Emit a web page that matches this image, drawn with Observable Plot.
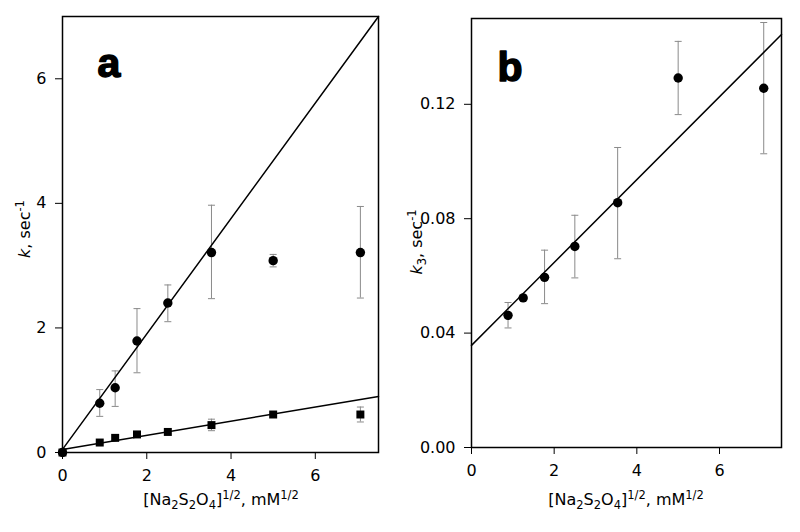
<!DOCTYPE html>
<html><head><meta charset="utf-8">
<script src="https://cdn.jsdelivr.net/npm/d3@7"></script>
<script src="https://cdn.jsdelivr.net/npm/@observablehq/plot@0.6"></script>
<style>
body{margin:0;background:#fff;}
#wrap{display:flex;width:800px;height:532px;}
</style></head><body><div id="wrap"></div>
<script>
// ---- data ----
const xVals = [0, 0.884, 1.25, 1.768, 2.5, 3.536, 5.0, 7.07];
const kCircle   = [0, 0.79, 1.04, 1.79, 2.40, 3.21, 3.08, 3.21];
const kCircleHi = [null, 1.01, 1.31, 2.31, 2.69, 3.97, 3.18, 3.95];
const kCircleLo = [null, 0.58, 0.74, 1.28, 2.10, 2.47, 2.98, 2.48];
const kSquare   = [0, 0.16, 0.235, 0.29, 0.33, 0.44, 0.61, 0.61];
const kSquareHi = [null, null, null, null, null, 0.535, null, 0.73];
const kSquareLo = [null, null, null, null, null, 0.35, null, 0.49];

const xB   = [0.884, 1.25, 1.768, 2.5, 3.536, 5.0, 7.07];
const k3   = [0.0462, 0.0523, 0.0595, 0.0703, 0.0856, 0.1292, 0.1256];
const k3Hi = [0.0507, null, 0.069, 0.0812, 0.1049, 0.142, 0.1486];
const k3Lo = [0.0418, null, 0.0503, 0.0593, 0.066, 0.1164, 0.1027];

const fitX  = [0, 7.5];
const fitA1 = [0.05, 7.0];
const fitA2 = [0.05, 0.90];
const fitB  = [0.0357, 0.1444];

const xTicks  = [0, 2, 4, 6];
const yTicksA = [0, 2, 4, 6];
const yTicksB = [0, 0.04, 0.08, 0.12];

// ---- helpers ----
const rows = (xs, ys, lo, hi) => xs.map((x, i) => ({x, y: ys[i], lo: lo ? lo[i] : null, hi: hi ? hi[i] : null}));
const withBars = d => d.filter(r => r.hi != null);
const capSymbol = {draw(ctx) { ctx.moveTo(-3.5, 0); ctx.lineTo(3.5, 0); }};
const ERR = "#8a8a8a";

function errMarks(data) {
  const b = withBars(data);
  return [
    Plot.ruleX(b, {x: "x", y1: "lo", y2: "hi", stroke: ERR, strokeWidth: 1}),
    Plot.dot(b, {x: "x", y: "hi", symbol: capSymbol, stroke: ERR, fill: "none", strokeWidth: 1}),
    Plot.dot(b, {x: "x", y: "lo", symbol: capSymbol, stroke: ERR, fill: "none", strokeWidth: 1})
  ];
}

function richText(sel, parts) {
  let shift = 0;
  parts.forEach(p => {
    const t = sel.append("tspan").text(p.t);
    let target = 0, size = null;
    if (p.s === "sub") { target = 4; size = 11.5; }
    if (p.s === "sup") { target = -6; size = 11.5; }
    t.attr("dy", target - shift);
    shift = target;
    if (size) t.attr("font-size", size);
    if (p.i) t.attr("font-style", "italic");
  });
}

const xLabelParts = [
  {t: "[Na"}, {t: "2", s: "sub"}, {t: "S"}, {t: "2", s: "sub"}, {t: "O"}, {t: "4", s: "sub"},
  {t: "]"}, {t: "1/2", s: "sup"}, {t: ", mM"}, {t: "1/2", s: "sup"}
];

const wrap = document.getElementById("wrap");
const style = {fontFamily: "DejaVu Sans", fontSize: "16px", color: "black", background: "white", overflow: "visible"};

// ---- panel a ----
const circA = rows(xVals, kCircle, kCircleLo, kCircleHi);
const sqA = rows(xVals, kSquare, kSquareLo, kSquareHi);
const lineA1 = rows(fitX, fitA1);
const lineA2 = rows(fitX, fitA2);

const plotA = Plot.plot({
  width: 400, height: 532,
  marginLeft: 62, marginRight: 22, marginTop: 16, marginBottom: 80,
  style,
  x: {domain: [0, 7.5]},
  y: {domain: [0, 7]},
  marks: [
    Plot.axisX({ticks: xTicks, tickSize: 7, tickPadding: 10, tickFormat: d3.format("d"), label: null}),
    Plot.axisY({ticks: yTicksA, tickSize: 7, tickPadding: 9, tickFormat: d3.format("d"), label: null}),
    ...errMarks(circA),
    ...errMarks(sqA),
    Plot.line(lineA1, {x: "x", y: "y", stroke: "black", strokeWidth: 1.5}),
    Plot.line(lineA2, {x: "x", y: "y", stroke: "black", strokeWidth: 1.5}),
    Plot.dot(circA, {x: "x", y: "y", r: 4.7, fill: "black", symbol: "circle"}),
    Plot.dot(sqA, {x: "x", y: "y", r: 4.5, fill: "black", symbol: "square"}),
    Plot.text(["a"], {frameAnchor: "top-left", dx: 35, dy: 60, lineAnchor: "bottom", textAnchor: "start",
      fontSize: 41, fontWeight: "bold", fontFamily: "Liberation Sans", fill: "black", stroke: "black", strokeWidth: 1.5}),
    Plot.frame({stroke: "black", strokeWidth: 1.5})
  ]
});
wrap.appendChild(plotA);
{
  const s = d3.select(plotA);
  richText(s.append("text").attr("x", 221).attr("y", 505).attr("text-anchor", "middle")
    .attr("font-family", "DejaVu Sans").attr("font-size", 16).attr("fill", "black"), xLabelParts);
  richText(s.append("text").attr("transform", "translate(30,229) rotate(-90)").attr("text-anchor", "middle")
    .attr("font-family", "DejaVu Sans").attr("font-size", 16).attr("fill", "black"),
    [{t: "k", i: true}, {t: ", sec"}, {t: "-1", s: "sup"}]);
}

// ---- panel b ----
const ptsB = rows(xB, k3, k3Lo, k3Hi);
const lineB = rows(fitX, fitB);

const plotB = Plot.plot({
  width: 400, height: 532,
  marginLeft: 71, marginRight: 19, marginTop: 18, marginBottom: 85,
  style,
  x: {domain: [0, 7.5]},
  y: {domain: [0, 0.15]},
  marks: [
    Plot.axisX({ticks: xTicks, tickSize: 7, tickPadding: 10, tickFormat: d3.format("d"), label: null}),
    Plot.axisY({ticks: yTicksB, tickSize: 7, tickPadding: 9, tickFormat: d3.format(".2f"), label: null}),
    ...errMarks(ptsB),
    Plot.line(lineB, {x: "x", y: "y", stroke: "black", strokeWidth: 1.5}),
    Plot.dot(ptsB, {x: "x", y: "y", r: 4.7, fill: "black", symbol: "circle"}),
    Plot.text(["b"], {frameAnchor: "top-left", dx: 26, dy: 62, lineAnchor: "bottom", textAnchor: "start",
      fontSize: 41, fontWeight: "bold", fontFamily: "Liberation Sans", fill: "black", stroke: "black", strokeWidth: 1.5}),
    Plot.frame({stroke: "black", strokeWidth: 1.5})
  ]
});
wrap.appendChild(plotB);
{
  const s = d3.select(plotB);
  richText(s.append("text").attr("x", 226).attr("y", 505).attr("text-anchor", "middle")
    .attr("font-family", "DejaVu Sans").attr("font-size", 16).attr("fill", "black"), xLabelParts);
  richText(s.append("text").attr("transform", "translate(22,242) rotate(-90)").attr("text-anchor", "middle")
    .attr("font-family", "DejaVu Sans").attr("font-size", 16).attr("fill", "black"),
    [{t: "k", i: true}, {t: "3", s: "sub"}, {t: ", sec"}, {t: "-1", s: "sup"}]);
}
</script></body></html>
